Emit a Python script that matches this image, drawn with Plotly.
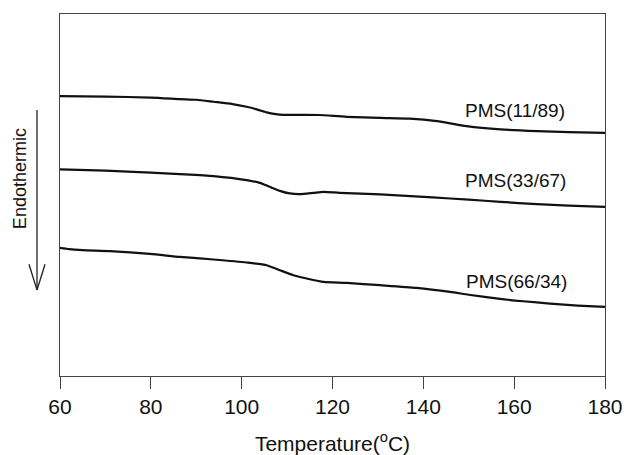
import plotly.graph_objects as go

# Temperature (°C) and heat-flow (arbitrary units)
t_11_89 = [60, 70, 80, 86.4, 90, 93.8, 98, 101.1, 103.5, 105.5, 107.5, 109.2, 113, 117,
           123.1, 130.5, 137, 143, 149.5, 157, 165, 172, 180]
h_11_89 = [27.97, 27.92, 27.82, 27.67, 27.60, 27.40, 27.17, 26.90, 26.62, 26.34, 26.17, 26.10,
           26.09, 26.08, 25.90, 25.79, 25.72, 25.47, 24.97, 24.64, 24.47, 24.37, 24.30]

t_33_67 = [60, 70, 80, 86.4, 93.8, 101.1, 104, 106.2, 108.4, 110.6, 112.8, 115.8, 118, 121.6,
           130.5, 142, 150, 157, 165, 172, 180]
h_33_67 = [20.64, 20.52, 20.32, 20.17, 19.97, 19.57, 19.30, 18.90, 18.50, 18.24, 18.17, 18.30,
           18.40, 18.30, 18.14, 17.84, 17.62, 17.40, 17.17, 17.02, 16.90]

t_66_34 = [60, 62, 65, 71, 79.8, 86.4, 93.8, 101.1, 105.5, 108.4, 111.4, 115, 118, 123.1,
           130.5, 138.5, 145.9, 150, 156.9, 162, 167.9, 174, 180]
h_66_34 = [12.80, 12.67, 12.57, 12.47, 12.20, 11.90, 11.64, 11.34, 11.07, 10.57, 10.07, 9.67,
           9.40, 9.30, 9.07, 8.80, 8.40, 8.12, 7.70, 7.47, 7.24, 7.04, 6.90]

labels = ["PMS(11/89)", "PMS(33/67)", "PMS(66/34)"]
label_t = [160.2, 160.2, 160.6]
label_h = [26.57, 19.57, 9.40]
x_ticks = [60, 80, 100, 120, 140, 160, 180]

FONT = "Liberation Sans, Arial, sans-serif"
fig = go.Figure()
for t, h in [(t_11_89, h_11_89), (t_33_67, h_33_67), (t_66_34, h_66_34)]:
    fig.add_trace(go.Scatter(x=t, y=h, mode="lines",
                             line=dict(color="#111111", width=2.2, shape="spline", smoothing=0.6),
                             showlegend=False, hoverinfo="skip"))

for lab, lt, lh in zip(labels, label_t, label_h):
    fig.add_annotation(x=lt, y=lh, xref="x", yref="y", text=lab, showarrow=False,
                       xanchor="center", yanchor="middle",
                       font=dict(family=FONT, size=19, color="#111111"))

# Endothermic label and arrow
fig.add_annotation(x=-0.0734, y=0.5466, xref="paper", yref="paper", text="Endothermic",
                   textangle=-90, showarrow=False, xanchor="center", yanchor="middle",
                   font=dict(family=FONT, size=18, color="#111111"))
arrow_col = "#222222"
fig.add_shape(type="line", xref="paper", yref="paper", x0=-0.0422, x1=-0.0422, y0=0.7346, y1=0.2375,
              line=dict(color=arrow_col, width=1.3))
fig.add_shape(type="line", xref="paper", yref="paper", x0=-0.0569, x1=-0.0422, y0=0.3088, y1=0.2375,
              line=dict(color=arrow_col, width=1.3))
fig.add_shape(type="line", xref="paper", yref="paper", x0=-0.0275, x1=-0.0422, y0=0.3088, y1=0.2375,
              line=dict(color=arrow_col, width=1.3))

fig.update_layout(
    width=624, height=455,
    margin=dict(l=60, r=19, t=14, b=79, autoexpand=False),
    paper_bgcolor="white", plot_bgcolor="white",
    font=dict(family=FONT, color="#111111"),
    xaxis=dict(range=[60, 180], tickvals=x_ticks, ticks="outside", ticklen=12, tickwidth=1,
               tickcolor="#444444", showline=True, linecolor="#444444", linewidth=1, mirror=True,
               showgrid=False, zeroline=False, automargin=False,
               tickfont=dict(size=21, family=FONT),
               title=dict(text="Temperature(<sup>o</sup>C)", font=dict(size=21, family=FONT), standoff=19)),
    yaxis=dict(range=[0, 36.17], showticklabels=False, ticks="", showline=True, linecolor="#444444",
               linewidth=1, mirror=True, showgrid=False, zeroline=False, automargin=False),
)
fig.write_html("out.html")
